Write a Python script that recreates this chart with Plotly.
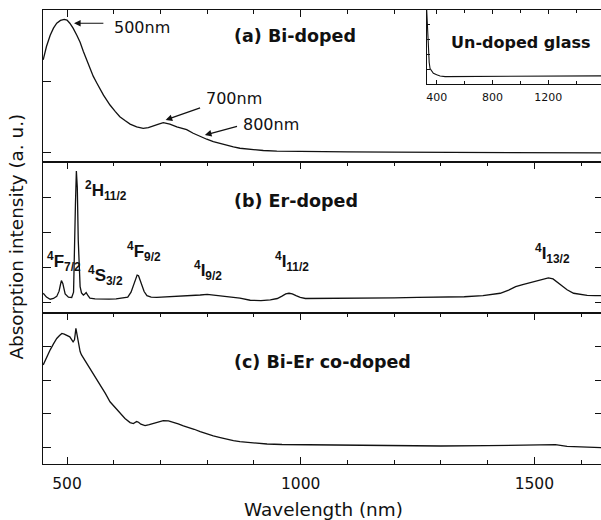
import plotly.graph_objects as go

# ---------------- data ----------------
wl_bi = [449, 456, 464, 471, 478, 486, 494, 500, 506, 513, 521, 528, 535, 542, 549, 556, 564, 571,
         578, 585, 592, 603, 613, 624, 635, 649, 663, 674, 685, 696, 706, 720, 735, 745, 756, 770,
         785, 799, 813, 828, 842, 856, 870, 892, 920, 949, 999, 1100, 1200, 1300, 1400, 1500, 1600, 1648]
abs_bi = [1.31, 1.50, 1.66, 1.76, 1.83, 1.87, 1.886, 1.875, 1.83, 1.76, 1.66, 1.56, 1.43, 1.31, 1.19,
          1.08, 0.98, 0.89, 0.81, 0.74, 0.67, 0.58, 0.505, 0.45, 0.40, 0.36, 0.34, 0.35, 0.38, 0.40,
          0.42, 0.40, 0.36, 0.34, 0.32, 0.27, 0.22, 0.185, 0.15, 0.12, 0.094, 0.075, 0.057, 0.04,
          0.025, 0.017, 0.01, 0.005, 0.002, 0.0, 0.0, -0.005, -0.008, -0.01]

wl_er = [449, 456, 464, 471, 478, 483, 486, 488, 491, 496, 503, 510, 514, 516, 518, 520, 522, 524,
         526, 528, 531, 535, 538, 541, 545, 549, 560, 575, 590, 605, 620, 630, 637, 642, 646, 650,
         653, 656, 660, 665, 671, 680, 692, 710, 730, 750, 770, 785, 800, 815, 830, 850, 870, 892,
         915, 935, 950, 960, 968, 975, 982, 990, 999, 1010, 1020, 1050, 1100, 1150, 1200, 1250,
         1300, 1350, 1390, 1410, 1427, 1445, 1460, 1475, 1490, 1505, 1520, 1530, 1540, 1556, 1570,
         1584, 1600, 1613, 1630, 1648]
abs_er = [0.27, 0.16, 0.10, 0.12, 0.18, 0.33, 0.52, 0.63, 0.55, 0.25, 0.16, 0.15, 0.30, 1.2, 2.8,
          3.76, 3.3, 1.8, 0.9, 0.46, 0.28, 0.22, 0.25, 0.29, 0.20, 0.13, 0.11, 0.10, 0.10, 0.11,
          0.13, 0.16, 0.30, 0.50, 0.68, 0.79, 0.77, 0.66, 0.50, 0.32, 0.20, 0.16, 0.15, 0.16, 0.17,
          0.18, 0.20, 0.22, 0.24, 0.22, 0.20, 0.17, 0.13, 0.07, 0.06, 0.08, 0.12, 0.19, 0.25, 0.27,
          0.25, 0.20, 0.15, 0.12, 0.12, 0.12, 0.13, 0.14, 0.14, 0.15, 0.16, 0.17, 0.20, 0.23, 0.27,
          0.36, 0.46, 0.52, 0.57, 0.61, 0.68, 0.71, 0.68, 0.51, 0.37, 0.27, 0.23, 0.21, 0.20, 0.20]

wl_co = [449, 456, 464, 471, 478, 484, 489, 494, 499, 506, 513, 516, 519, 521, 524, 528, 531, 540,
         549, 560, 571, 582, 592, 603, 613, 624, 635, 642, 649, 653, 658, 667, 676, 685, 696, 706,
         717, 728, 738, 749, 760, 772, 785, 799, 813, 828, 842, 856, 870, 900, 928, 960, 999, 1050,
         1100, 1150, 1213, 1300, 1399, 1450, 1490, 1524, 1545, 1570, 1600, 1648]
abs_co = [2.45, 2.68, 2.90, 3.08, 3.24, 3.33, 3.39, 3.37, 3.34, 3.29, 3.14, 3.20, 3.54, 3.40, 3.10,
          2.85, 2.75, 2.55, 2.35, 2.10, 1.85, 1.60, 1.35, 1.17, 1.00, 0.85, 0.73, 0.70, 0.76, 0.74,
          0.68, 0.64, 0.67, 0.71, 0.75, 0.79, 0.78, 0.74, 0.69, 0.63, 0.59, 0.53, 0.46, 0.39, 0.33,
          0.28, 0.23, 0.19, 0.16, 0.12, 0.09, 0.075, 0.07, 0.06, 0.05, 0.04, 0.03, 0.03, 0.04, 0.05,
          0.06, 0.08, 0.07, 0.02, 0.0, -0.02]

wl_glass = [328, 334, 340, 346, 352, 364, 376, 400, 424, 460, 600, 800, 1000, 1200, 1400, 1595]
abs_glass = [1.0, 0.70, 0.39, 0.29, 0.21, 0.17, 0.145, 0.125, 0.108, 0.10, 0.10, 0.10, 0.105,
             0.105, 0.108, 0.11]

main_ticks = [500, 1000, 1500]
inset_ticks = [400, 800, 1200]

# ---------------- figure ----------------
FONT = "DejaVu Sans"
LEVFONT = "Liberation Sans"
BLACK = "#111111"
W = 603           # right frame sits just outside the 601 px window, as in the reference
XR = [448.6, 1646.9]

fig = go.Figure()
line = dict(color=BLACK, width=1.3)
fig.add_trace(go.Scatter(x=wl_bi, y=abs_bi, mode="lines", line=line, xaxis="x", yaxis="y"))
fig.add_trace(go.Scatter(x=wl_er, y=abs_er, mode="lines", line=line, xaxis="x2", yaxis="y2"))
fig.add_trace(go.Scatter(x=wl_co, y=abs_co, mode="lines", line=line, xaxis="x3", yaxis="y3"))
fig.add_trace(go.Scatter(x=wl_glass, y=abs_glass, mode="lines", line=dict(color=BLACK, width=1.1),
                         xaxis="x4", yaxis="y4"))

ax_common = dict(range=XR, showline=True, linecolor=BLACK, linewidth=1.4, ticks="inside",
                 tickcolor=BLACK, tickwidth=1.2, ticklen=7, showgrid=False, zeroline=False)
minor = dict(ticks="inside", ticklen=4, tickcolor=BLACK, tickwidth=1.1, dtick=100, tick0=0,
             showgrid=False)
yax_common = dict(showline=True, linecolor=BLACK, linewidth=1.4, ticks="inside", ticklen=8,
                  tickcolor=BLACK, tickwidth=1.2, showticklabels=False, showgrid=False,
                  zeroline=False)

plot_w = W - 43
inset_x0 = (426.7 - 43) / plot_w

fig.update_layout(
    width=W, height=520,
    margin=dict(l=43, r=0, t=10, b=56),
    paper_bgcolor="white", plot_bgcolor="white",
    showlegend=False,
    font=dict(family=FONT, color=BLACK),
    xaxis=dict(**ax_common, anchor="y", side="top", mirror=True, showticklabels=False,
               tickvals=[500, 1000],
               minor=dict(ticks="inside", ticklen=4, tickcolor=BLACK, tickwidth=1.1,
                          tickvals=[600, 700, 800, 900, 1100, 1200], showgrid=False)),
    xaxis2=dict(**ax_common, anchor="y2", side="top", mirror=True, showticklabels=False,
                tickvals=main_ticks, minor=minor),
    xaxis3=dict(**ax_common, anchor="y3", side="bottom", mirror="ticks", tickvals=main_ticks,
                ticktext=[str(v) for v in main_ticks], tickfont=dict(size=15.5, family=FONT),
                ticklabelstandoff=5, minor=minor),
    yaxis=dict(**yax_common, domain=[0.6652, 1.0], range=[-0.138, 2.018], tickvals=[0, 1],
               mirror=True),
    yaxis2=dict(**yax_common, domain=[0.3326, 0.6652], range=[-0.294, 4.02],
                tickvals=[0, 1, 2, 3], mirror="ticks"),
    yaxis3=dict(**yax_common, domain=[0.0, 0.3326], range=[-0.507, 4.0],
                tickvals=[0, 1, 2, 3], mirror="ticks"),
    xaxis4=dict(domain=[inset_x0, 1.0], anchor="y4", range=[328, 1592], showline=True,
                linecolor=BLACK, linewidth=1.2, mirror="ticks", ticks="inside", ticklen=4,
                tickcolor=BLACK, tickwidth=1, tickvals=inset_ticks,
                ticktext=[str(v) for v in inset_ticks], tickfont=dict(size=11, family=FONT),
                ticklabelstandoff=3,
                minor=dict(ticks="inside", ticklen=2.5, tickcolor=BLACK, dtick=200, tick0=0,
                           showgrid=False),
                showgrid=False, zeroline=False),
    yaxis4=dict(domain=[0.837, 1.0], anchor="x4", range=[0, 1], showline=True, linecolor=BLACK,
                linewidth=1.2, mirror=True, ticks="inside", ticklen=3, tickcolor=BLACK,
                tickwidth=1, dtick=0.2, showticklabels=False, showgrid=False, zeroline=False),
)

ann = []
# panel labels
bold = dict(family=FONT, size=17.5, color=BLACK)
for txt, xref, yref, yv in [("(a) Bi-doped", "x", "y", 1.65), ("(b) Er-doped", "x2", "y2", 2.906),
                            ("(c) Bi-Er co-doped", "x3", "y3", 2.546)]:
    ann.append(dict(text="<b>%s</b>" % txt, x=852.7, y=yv, xref=xref, yref=yref,
                    xanchor="left", yanchor="middle", showarrow=False, font=bold))
ann.append(dict(text="<b>Un-doped glass</b>", x=1004, y=0.558, xref="x4", yref="y4",
                xanchor="center", yanchor="middle", showarrow=False,
                font=dict(family=FONT, size=16, color=BLACK)))

# wavelength markers in (a)
reg = dict(family=FONT, size=16, color=BLACK)
for txt, xv, yv in [("500nm", 595.6, 1.773), ("700nm", 793, 0.766), ("800nm", 871.7, 0.40)]:
    ann.append(dict(text=txt, x=xv, y=yv, xref="x", yref="y", xanchor="left", yanchor="middle",
                    showarrow=False, font=reg))
for hx, hy, tx, ty in [(515, 1.83, 581, 1.83), (711, 0.458, 788, 0.638), (795, 0.245, 867, 0.373)]:
    ann.append(dict(text="", x=hx, y=hy, ax=tx, ay=ty, xref="x", yref="y", axref="x", ayref="y",
                    showarrow=True, arrowhead=2, arrowsize=1.1, arrowwidth=1.2, arrowcolor=BLACK,
                    standoff=0, startstandoff=0))

# Er levels in (b)
lev = dict(family=LEVFONT, size=17, color=BLACK)
for txt, xv, yv in [("<sup>4</sup>F<sub>7/2</sub>", 452.9, 1.163),
                    ("<sup>2</sup>H<sub>11/2</sub>", 534.2, 3.21),
                    ("<sup>4</sup>S<sub>3/2</sub>", 540.7, 0.763),
                    ("<sup>4</sup>F<sub>9/2</sub>", 624.1, 1.477),
                    ("<sup>4</sup>I<sub>9/2</sub>", 767.5, 0.906),
                    ("<sup>4</sup>I<sub>11/2</sub>", 940.8, 1.19),
                    ("<sup>4</sup>I<sub>13/2</sub>", 1497.2, 1.42)]:
    ann.append(dict(text="<b>%s</b>" % txt, x=xv, y=yv, xref="x2", yref="y2", xanchor="left",
                    yanchor="middle", showarrow=False, font=lev))

# axis titles (paper coords relative to the plot area)
def px_x(px):
    return (px - 43) / plot_w

ann.append(dict(text="Wavelength (nm)", x=px_x(323.2), y=-0.1013, xref="paper", yref="paper",
                xanchor="center", yanchor="middle", showarrow=False,
                font=dict(family=FONT, size=18.4, color=BLACK)))
ann.append(dict(text="Absorption intensity (a. u.)", x=px_x(17), y=0.501, xref="paper",
                yref="paper", xanchor="center", yanchor="middle", textangle=-90,
                showarrow=False, font=dict(family=FONT, size=18.4, color=BLACK)))

fig.update_layout(annotations=ann)
fig.write_html("out.html", config={"displayModeBar": False},
               post_script="document.body.style.margin='0px';"
                           "document.body.style.overflow='hidden';")
